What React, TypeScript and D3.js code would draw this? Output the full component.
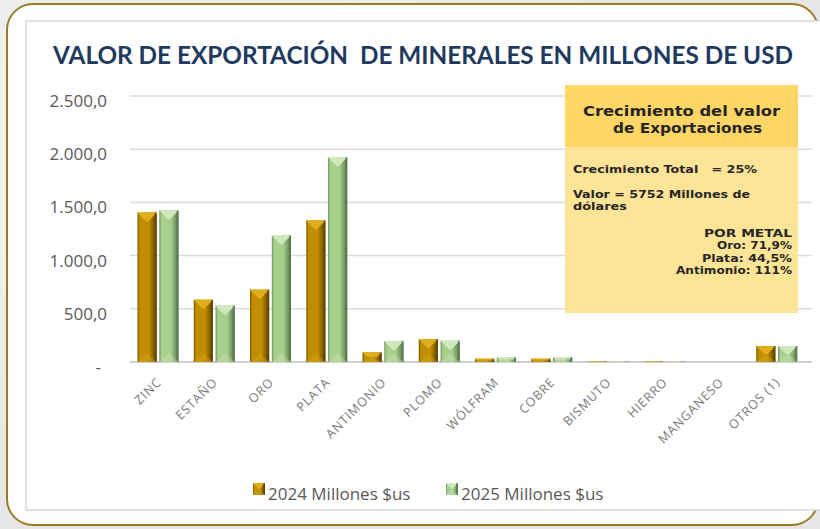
import React from "react";
import * as d3 from "d3";

const categories = ["ZINC", "ESTAÑO", "ORO", "PLATA", "ANTIMONIO", "PLOMO", "WÓLFRAM", "COBRE", "BISMUTO", "HIERRO", "MANGANESO", "OTROS (1)"];
const values2024 = [1405, 585, 680, 1330, 90, 215, 30, 30, 4, 4, 0, 150];
const values2025 = [1425, 530, 1190, 1925, 198, 200, 45, 45, 4, 4, 0, 150];
const seriesNames = ["2024 Millones $us", "2025 Millones $us"];
const yTicks = [0, 500, 1000, 1500, 2000, 2500];
const boxTitle = ["Crecimiento del valor", "de Exportaciones"];
const boxLeft = ["Crecimiento Total   = 25%", "Valor = 5752 Millones de", "dólares"];
const boxRight = ["POR METAL", "Oro: 71,9%", "Plata: 44,5%", "Antimonio: 111%"];

const W = 820, H = 529;
const plot = { left: 130, right: 805, top: 96, bottom: 362 };

const palettes = [
  { base: "#c08e00", light: "#e0ad1c", dark: "#7a5a00", edge: "#5e4500" },
  { base: "#a8d08d", light: "#cfe8bd", dark: "#6f9360", edge: "#56744a" },
];

// layout of text box lines (measured widths)
const titleBox = [{ x0: 583, x1: 780, y: 116 }, { x0: 613, x1: 762, y: 133 }];
const leftBox = [{ x0: 573, x1: 757, y: 173 }, { x0: 573, x1: 750, y: 198 }, { x0: 573, x1: 627, y: 210 }];
const rightBox = [{ x0: 704, y: 237 }, { x0: 717, y: 249 }, { x0: 702, y: 262 }, { x0: 676, y: 274 }];

function fmt(v: number) {
  if (v === 0) return "-";
  const s = d3.format(",.1f")(v);
  return s.replace(/,/g, "#").replace(/\./g, ",").replace(/#/g, ".");
}

function Bar({ x, y, w, h, s, id }: { x: number; y: number; w: number; h: number; s: number; id: string }) {
  const p = palettes[s];
  if (h <= 0.1) return null;
  const bev = Math.min(w / 2.2, h / 2, 9);
  return (
    <g>
      <rect x={x} y={y} width={w} height={h} fill={`url(#${id})`} />
      <polygon points={`${x},${y} ${x + w},${y} ${x + w - bev},${y + bev} ${x + bev},${y + bev}`} fill={p.light} opacity={0.9} />
      <polygon points={`${x},${y} ${x + w / 2},${y + bev * 1.1} ${x + w},${y}`} fill={p.light} />
      <rect x={x + w - 2} y={y} width={2} height={h} fill={p.edge} opacity={0.6} />
      <polygon points={`${x},${y + h} ${x + w / 2},${y + h - Math.min(bev, h / 2)} ${x + w},${y + h}`} fill={p.light} opacity={0.35} />
    </g>
  );
}

export default function App() {
  const x0 = d3.scaleBand<string>().domain(categories).range([plot.left, plot.right]).padding(0);
  const x1 = d3.scaleBand<number>().domain([0, 1]).range([7.5, 48.5]).paddingInner(0.12);
  const y = d3.scaleLinear().domain([0, 2500]).range([plot.bottom, plot.top]);
  const series = [values2024, values2025];
  const boxFont = "'DejaVu Sans', sans-serif";

  return (
    <svg width={W} height={H} style={{ position: "absolute", left: 0, top: 0 }} xmlns="http://www.w3.org/2000/svg">
      <defs>
        {palettes.map((p, i) => (
          <linearGradient key={i} id={`g${i}`} x1="0" x2="1" y1="0" y2="0">
            <stop offset="0" stopColor={p.dark} />
            <stop offset="0.12" stopColor={p.base} />
            <stop offset="0.6" stopColor={p.base} />
            <stop offset="0.88" stopColor={p.dark} />
            <stop offset="1" stopColor={p.edge} />
          </linearGradient>
        ))}
        <radialGradient id="bgblob" cx="0.2" cy="0.3" r="0.6">
          <stop offset="0" stopColor="#f7f7f7" />
          <stop offset="1" stopColor="#e6e6e6" />
        </radialGradient>
      </defs>
      <rect x={0} y={0} width={W} height={H} fill="url(#bgblob)" />
      <rect x={7} y={4} width={811} height={521} rx={26} ry={26} fill="#ffffff" stroke="#9a7b24" strokeWidth={2} />
      <rect x={26} y={21} width={W} height={489} fill="#ffffff" stroke="#d9d9d9" strokeWidth={1.5} />

      <text x={53} y={64} fontFamily="Lato, 'Open Sans', sans-serif" fontWeight={700} fontSize={25} fill="#1f3a5f" textLength={740} lengthAdjust="spacingAndGlyphs" style={{ whiteSpace: "pre" }}>
        {"VALOR DE EXPORTACIÓN  DE MINERALES EN MILLONES DE USD"}
      </text>

      {yTicks.map((t) => (
        <g key={t}>
          <line x1={plot.left} x2={plot.right + 7} y1={y(t)} y2={y(t)} stroke={t === 0 ? "#d0d0d0" : "#dcdcdc"} strokeWidth={t === 0 ? 2 : 1.5} />
          <text x={t === 0 ? 101 : 107} y={y(t) + 11} textAnchor="end" fontFamily="'Open Sans', sans-serif" fontSize={17} fill="#595959">
            {fmt(t)}
          </text>
        </g>
      ))}

      {categories.map((c, i) => (
        <g key={c}>
          {series.map((vals, s) => {
            const bx = (x0(c) as number) + (x1(s) as number);
            const by = y(vals[i]);
            return <Bar key={s} id={`g${s}`} s={s} x={bx} y={by} w={x1.bandwidth()} h={y(0) - by} />;
          })}
          <text
            transform={`translate(${(x0(c) as number) + x0.bandwidth() / 2 + 4},${plot.bottom + 21}) rotate(-45)`}
            textAnchor="end"
            fontFamily="'Open Sans', sans-serif"
            fontSize={12.5}
            letterSpacing={0.9}
            fill="#7a7a7a"
          >
            {c}
          </text>
        </g>
      ))}

      {/* text box */}
      <rect x={565} y={85} width={233} height={228} fill="#fee497" />
      <rect x={565} y={85} width={233} height={62} fill="#fdd665" />
      {boxTitle.map((t, i) => (
        <text key={t} x={titleBox[i].x0} y={titleBox[i].y} textLength={titleBox[i].x1 - titleBox[i].x0} lengthAdjust="spacingAndGlyphs" fontFamily={boxFont} fontWeight={700} fontSize={14.5} fill="#262626">
          {t}
        </text>
      ))}
      {boxLeft.map((t, i) => (
        <text key={t} x={leftBox[i].x0} y={leftBox[i].y} textLength={leftBox[i].x1 - leftBox[i].x0} lengthAdjust="spacingAndGlyphs" fontFamily={boxFont} fontWeight={700} fontSize={11} fill="#262626" style={{ whiteSpace: "pre" }}>
          {t}
        </text>
      ))}
      {boxRight.map((t, i) => (
        <text key={t} x={rightBox[i].x0} y={rightBox[i].y} textLength={792 - rightBox[i].x0} lengthAdjust="spacingAndGlyphs" fontFamily={boxFont} fontWeight={700} fontSize={10.5} fill="#262626">
          {t}
        </text>
      ))}

      {/* legend */}
      {seriesNames.map((n, s) => {
        const lx = [253, 446][s];
        return (
          <g key={n}>
            <Bar id={`g${s}`} s={s} x={lx} y={483} w={12} h={12} />
            <text x={lx + 15} y={500} fontFamily="'Open Sans', sans-serif" fontSize={17} fill="#595959">
              {n}
            </text>
          </g>
        );
      })}
    </svg>
  );
}
